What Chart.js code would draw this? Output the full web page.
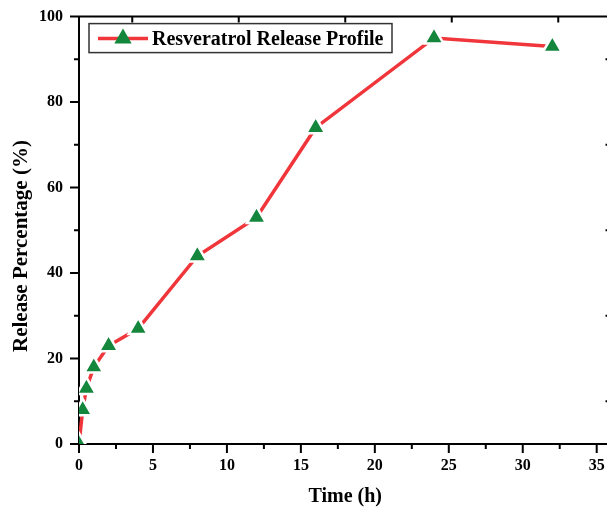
<!DOCTYPE html>
<html>
<head>
<meta charset="utf-8">
<script src="https://cdn.jsdelivr.net/npm/chart.js@4.4.0/dist/chart.umd.min.js"></script>
<style>
  html, body { margin: 0; padding: 0; background: #fff; overflow: hidden; }
  #wrap { width: 607px; height: 508px; overflow: hidden; }
</style>
</head>
<body>
<div id="wrap"><canvas id="releaseChart" width="625" height="508"></canvas></div>
<script>
// release data
const timeHours = [0, 0.25, 0.5, 1, 2, 4, 8, 12, 16, 24, 32];
const releasePct = [0, 8, 13, 18, 23, 27, 44, 53, 74, 95, 93];
const seriesLabel = 'Resveratrol Release Profile';

// mirror-axis tick positions (top and right frame)
const topTicks = [3.6, 10.8, 18, 25.2, 32.4];
const rightTicks = [10, 30, 50, 70, 90];

const serif = '"Liberation Serif", "Times New Roman", serif';
const red = '#f0363b';
const green = '#14873d';

const framePlugin = {
    id: 'frame',
    afterDraw(chart) {
        const ctx = chart.ctx;
        const x = chart.scales.x, y = chart.scales.y;
        const a = chart.chartArea;
        ctx.save();
        ctx.strokeStyle = '#000';
        ctx.lineWidth = 2;
        ctx.beginPath();
        // top and right frame
        ctx.moveTo(a.left, a.top); ctx.lineTo(a.right, a.top); ctx.lineTo(a.right, a.bottom);
        // bottom ticks (outward)
        for (let v = 0; v <= 35; v += 2.5) {
            const px = x.getPixelForValue(v);
            ctx.moveTo(px, a.bottom); ctx.lineTo(px, a.bottom + (v % 5 === 0 ? 9 : 5));
        }
        // left ticks (outward)
        for (let v = 0; v <= 100; v += 10) {
            const py = y.getPixelForValue(v);
            ctx.moveTo(a.left, py); ctx.lineTo(a.left - (v % 20 === 0 ? 9 : 5), py);
        }
        // top ticks (inward)
        topTicks.forEach(v => {
            const px = x.getPixelForValue(v);
            ctx.moveTo(px, a.top); ctx.lineTo(px, a.top + 6);
        });
        // right ticks (inward)
        rightTicks.forEach(v => {
            const py = y.getPixelForValue(v);
            ctx.moveTo(a.right, py); ctx.lineTo(a.right - 6, py);
        });
        ctx.stroke();

        // legend box
        const bx = a.left + 10, by = a.top + 7;
        ctx.lineWidth = 1.5;
        ctx.strokeStyle = '#333';
        ctx.strokeRect(bx, by, 303, 29);
        const ly = by + 15;
        ctx.strokeStyle = red;
        ctx.lineWidth = 3.5;
        ctx.beginPath();
        ctx.moveTo(bx + 9, ly); ctx.lineTo(bx + 59, ly);
        ctx.stroke();
        const r = 10, cx = bx + 34;
        ctx.fillStyle = green;
        ctx.beginPath();
        ctx.moveTo(cx, ly - r);
        ctx.lineTo(cx + r * Math.sin(2 * Math.PI / 3), ly + r / 2);
        ctx.lineTo(cx - r * Math.sin(2 * Math.PI / 3), ly + r / 2);
        ctx.closePath();
        ctx.fill();
        ctx.fillStyle = '#000';
        ctx.font = 'bold 20px ' + serif;
        ctx.textBaseline = 'middle';
        ctx.fillText(seriesLabel, bx + 63, ly + 1);
        ctx.restore();
    }
};

const ctx = document.getElementById('releaseChart').getContext('2d');

new Chart(ctx, {
    type: 'line',
    data: {
        datasets: [{
            label: seriesLabel,
            data: timeHours.map((t, i) => ({ x: t, y: releasePct[i] })),
            borderColor: red,
            borderWidth: 3.5,
            tension: 0,
            pointStyle: 'triangle',
            pointRadius: 11,
            pointBackgroundColor: green,
            pointBorderColor: '#fff',
            pointBorderWidth: 2.5
        }]
    },
    options: {
        responsive: false,
        animation: false,
        layout: {
            padding: { top: 16, right: 4, left: 0, bottom: 0 }
        },
        plugins: {
            legend: { display: false },
            tooltip: { enabled: false }
        },
        scales: {
            x: {
                type: 'linear',
                min: 0,
                max: 36,
                afterFit: s => { s.height = 64; },
                grid: { display: false, tickLength: 9 },
                border: { display: true, color: '#000', width: 2 },
                ticks: {
                    stepSize: 5,
                    includeBounds: false,
                    padding: 3,
                    color: '#000',
                    font: { family: serif, size: 16, weight: 'bold' }
                },
                title: {
                    display: true,
                    text: 'Time (h)',
                    color: '#000',
                    padding: { top: 0, bottom: 1 },
                    font: { family: serif, size: 20, weight: 'bold', lineHeight: 1 }
                }
            },
            y: {
                min: 0,
                max: 100,
                afterFit: s => { s.width = 79; },
                grid: { display: false, tickLength: 9 },
                border: { display: true, color: '#000', width: 2 },
                ticks: {
                    stepSize: 20,
                    padding: 7,
                    color: '#000',
                    font: { family: serif, size: 16, weight: 'bold' }
                },
                title: {
                    display: true,
                    // trailing spaces nudge the centred title down a little
                    text: 'Release Percentage (%)      ',
                    color: '#000',
                    padding: { top: 9, bottom: 0 },
                    font: { family: serif, size: 21, weight: 'bold', lineHeight: 1.2 }
                }
            }
        }
    },
    plugins: [framePlugin]
});
</script>
</body>
</html>
